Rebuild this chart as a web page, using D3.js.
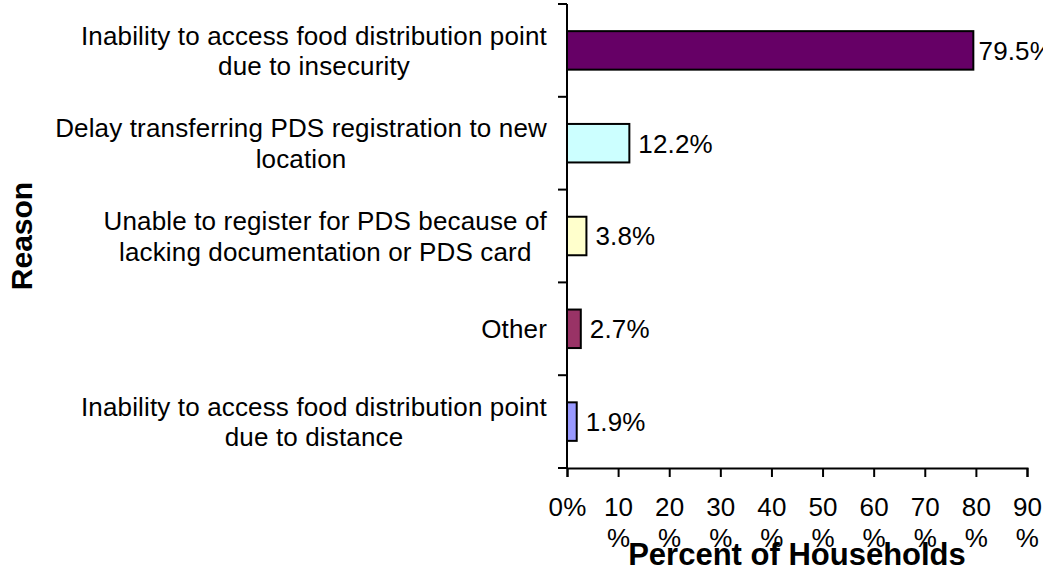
<!DOCTYPE html>
<html>
<head>
<meta charset="utf-8">
<script src="https://cdn.jsdelivr.net/npm/d3@7/dist/d3.min.js"></script>
<style>
  html, body { margin: 0; padding: 0; background: #fff; }
  svg { display: block; }
  text { font-family: "Liberation Sans", Arial, sans-serif; fill: #000; }
</style>
</head>
<body>
<svg id="chart" width="1043" height="574"></svg>
<script>
// ---- data ----
const categories = [
  "Inability to access food distribution point|due to insecurity",
  "Delay transferring PDS registration to new|location",
  "Unable to register for PDS because of|lacking documentation or PDS card",
  "Other",
  "Inability to access food distribution point|due to distance"
];
const values = [79.5, 12.2, 3.8, 2.7, 1.9];
const barColors = ["#660066", "#CCFFFF", "#FFFFCC", "#993366", "#9999FF"];
const xTicks = [0, 10, 20, 30, 40, 50, 60, 70, 80, 90];
const xTickLabels = ["0%", "10%", "20%", "30%", "40%", "50%", "60%", "70%", "80%", "90%"];
const xTitle = "Percent of Households";
const yTitle = "Reason";

// ---- layout ----
const W = 1043, H = 574;
const margin = { top: 4, right: 16, bottom: 106, left: 567 };
const chartRight = 1053; // Excel chart area extends past the visible image
const fontSize = 26;
const letterSp = 0.15;

const svg = d3.select("#chart");

const x = d3.scaleLinear().domain([0, 90]).range([margin.left, W - margin.right]);
const padIn = 0.585;
const y = d3.scaleBand().domain(categories).range([margin.top, H - margin.bottom])
  .paddingInner(padIn).paddingOuter(padIn / 2);

// bars
svg.append("g").selectAll("rect").data(values).join("rect")
  .attr("x", x(0))
  .attr("y", (d, i) => y(categories[i]))
  .attr("width", d => x(d) - x(0))
  .attr("height", y.bandwidth())
  .attr("fill", (d, i) => barColors[i])
  .attr("stroke", "#000")
  .attr("stroke-width", 2);

// value labels
const vl = svg.append("g").selectAll("text").data(values).join("text")
  .attr("y", (d, i) => y(categories[i]) + y.bandwidth() / 2)
  .attr("dy", "0.36em")
  .style("font-size", fontSize + "px")
  .style("letter-spacing", letterSp + "px")
  .text(d => d.toFixed(1) + "%");
vl.each(function (d) {
  const w = this.getComputedTextLength();
  d3.select(this).attr("x", Math.min(x(d) + 9, chartRight - w));
});

// y axis line and ticks (at category boundaries)
const step = y.step();
const bounds = categories.map(c => y(c) - step * padIn / 2);
bounds.push(H - margin.bottom);
const gy = svg.append("g");
gy.append("line")
  .attr("x1", x(0)).attr("x2", x(0))
  .attr("y1", margin.top).attr("y2", H - margin.bottom)
  .attr("stroke", "#000").attr("stroke-width", 2);
gy.selectAll("line.tick").data(bounds).join("line")
  .attr("class", "tick")
  .attr("x1", x(0) - 9).attr("x2", x(0))
  .attr("y1", d => d).attr("y2", d => d)
  .attr("stroke", "#000").attr("stroke-width", 2);

// category labels: each block centered, right edge at fixed position
const labelRight = 547;
const lineH = 30.5;
categories.forEach(c => {
  const lines = c.split("|");
  const cy = y(c) + y.bandwidth() / 2;
  const t = svg.append("text")
    .style("font-size", fontSize + "px")
    .style("letter-spacing", letterSp + "px")
    .attr("text-anchor", "middle");
  const n = lines.length;
  lines.forEach((ln, k) => {
    t.append("tspan")
      .attr("y", cy + (k - (n - 1) / 2) * lineH)
      .attr("dy", "0.36em")
      .text(ln);
  });
  let maxW = 0;
  t.selectAll("tspan").each(function () { maxW = Math.max(maxW, this.getComputedTextLength()); });
  t.selectAll("tspan").attr("x", labelRight - maxW / 2);
});

// x axis
const gx = svg.append("g")
  .attr("transform", `translate(0,${H - margin.bottom})`)
  .call(d3.axisBottom(x).tickValues(xTicks).tickSize(9).tickSizeOuter(9).tickFormat(""));
gx.select(".domain").attr("stroke", "#000").attr("stroke-width", 2);
gx.selectAll(".tick line").attr("stroke", "#000").attr("stroke-width", 2);
gx.selectAll(".tick text").remove();
gx.selectAll(".tick").each(function (d, i) {
  const lab = xTickLabels[i];
  const parts = lab.length > 2 ? [lab.slice(0, -1), "%"] : [lab];
  const t = d3.select(this).append("text")
    .attr("text-anchor", "middle")
    .style("font-size", fontSize + "px")
    .style("letter-spacing", letterSp + "px")
    .attr("fill", "#000");
  parts.forEach((p, k) => {
    t.append("tspan").attr("x", 0).attr("y", 48 + k * 31).text(p);
  });
});

// axis titles
svg.append("text")
  .attr("x", (x(0) + x(90)) / 2)
  .attr("y", 565)
  .attr("text-anchor", "middle")
  .style("font-size", "31px")
  .style("font-weight", "bold")
  .text(xTitle);

svg.append("text")
  .attr("transform", "translate(32,236) rotate(-90)")
  .attr("text-anchor", "middle")
  .style("font-size", "30px")
  .style("font-weight", "bold")
  .text(yTitle);
</script>
</body>
</html>
